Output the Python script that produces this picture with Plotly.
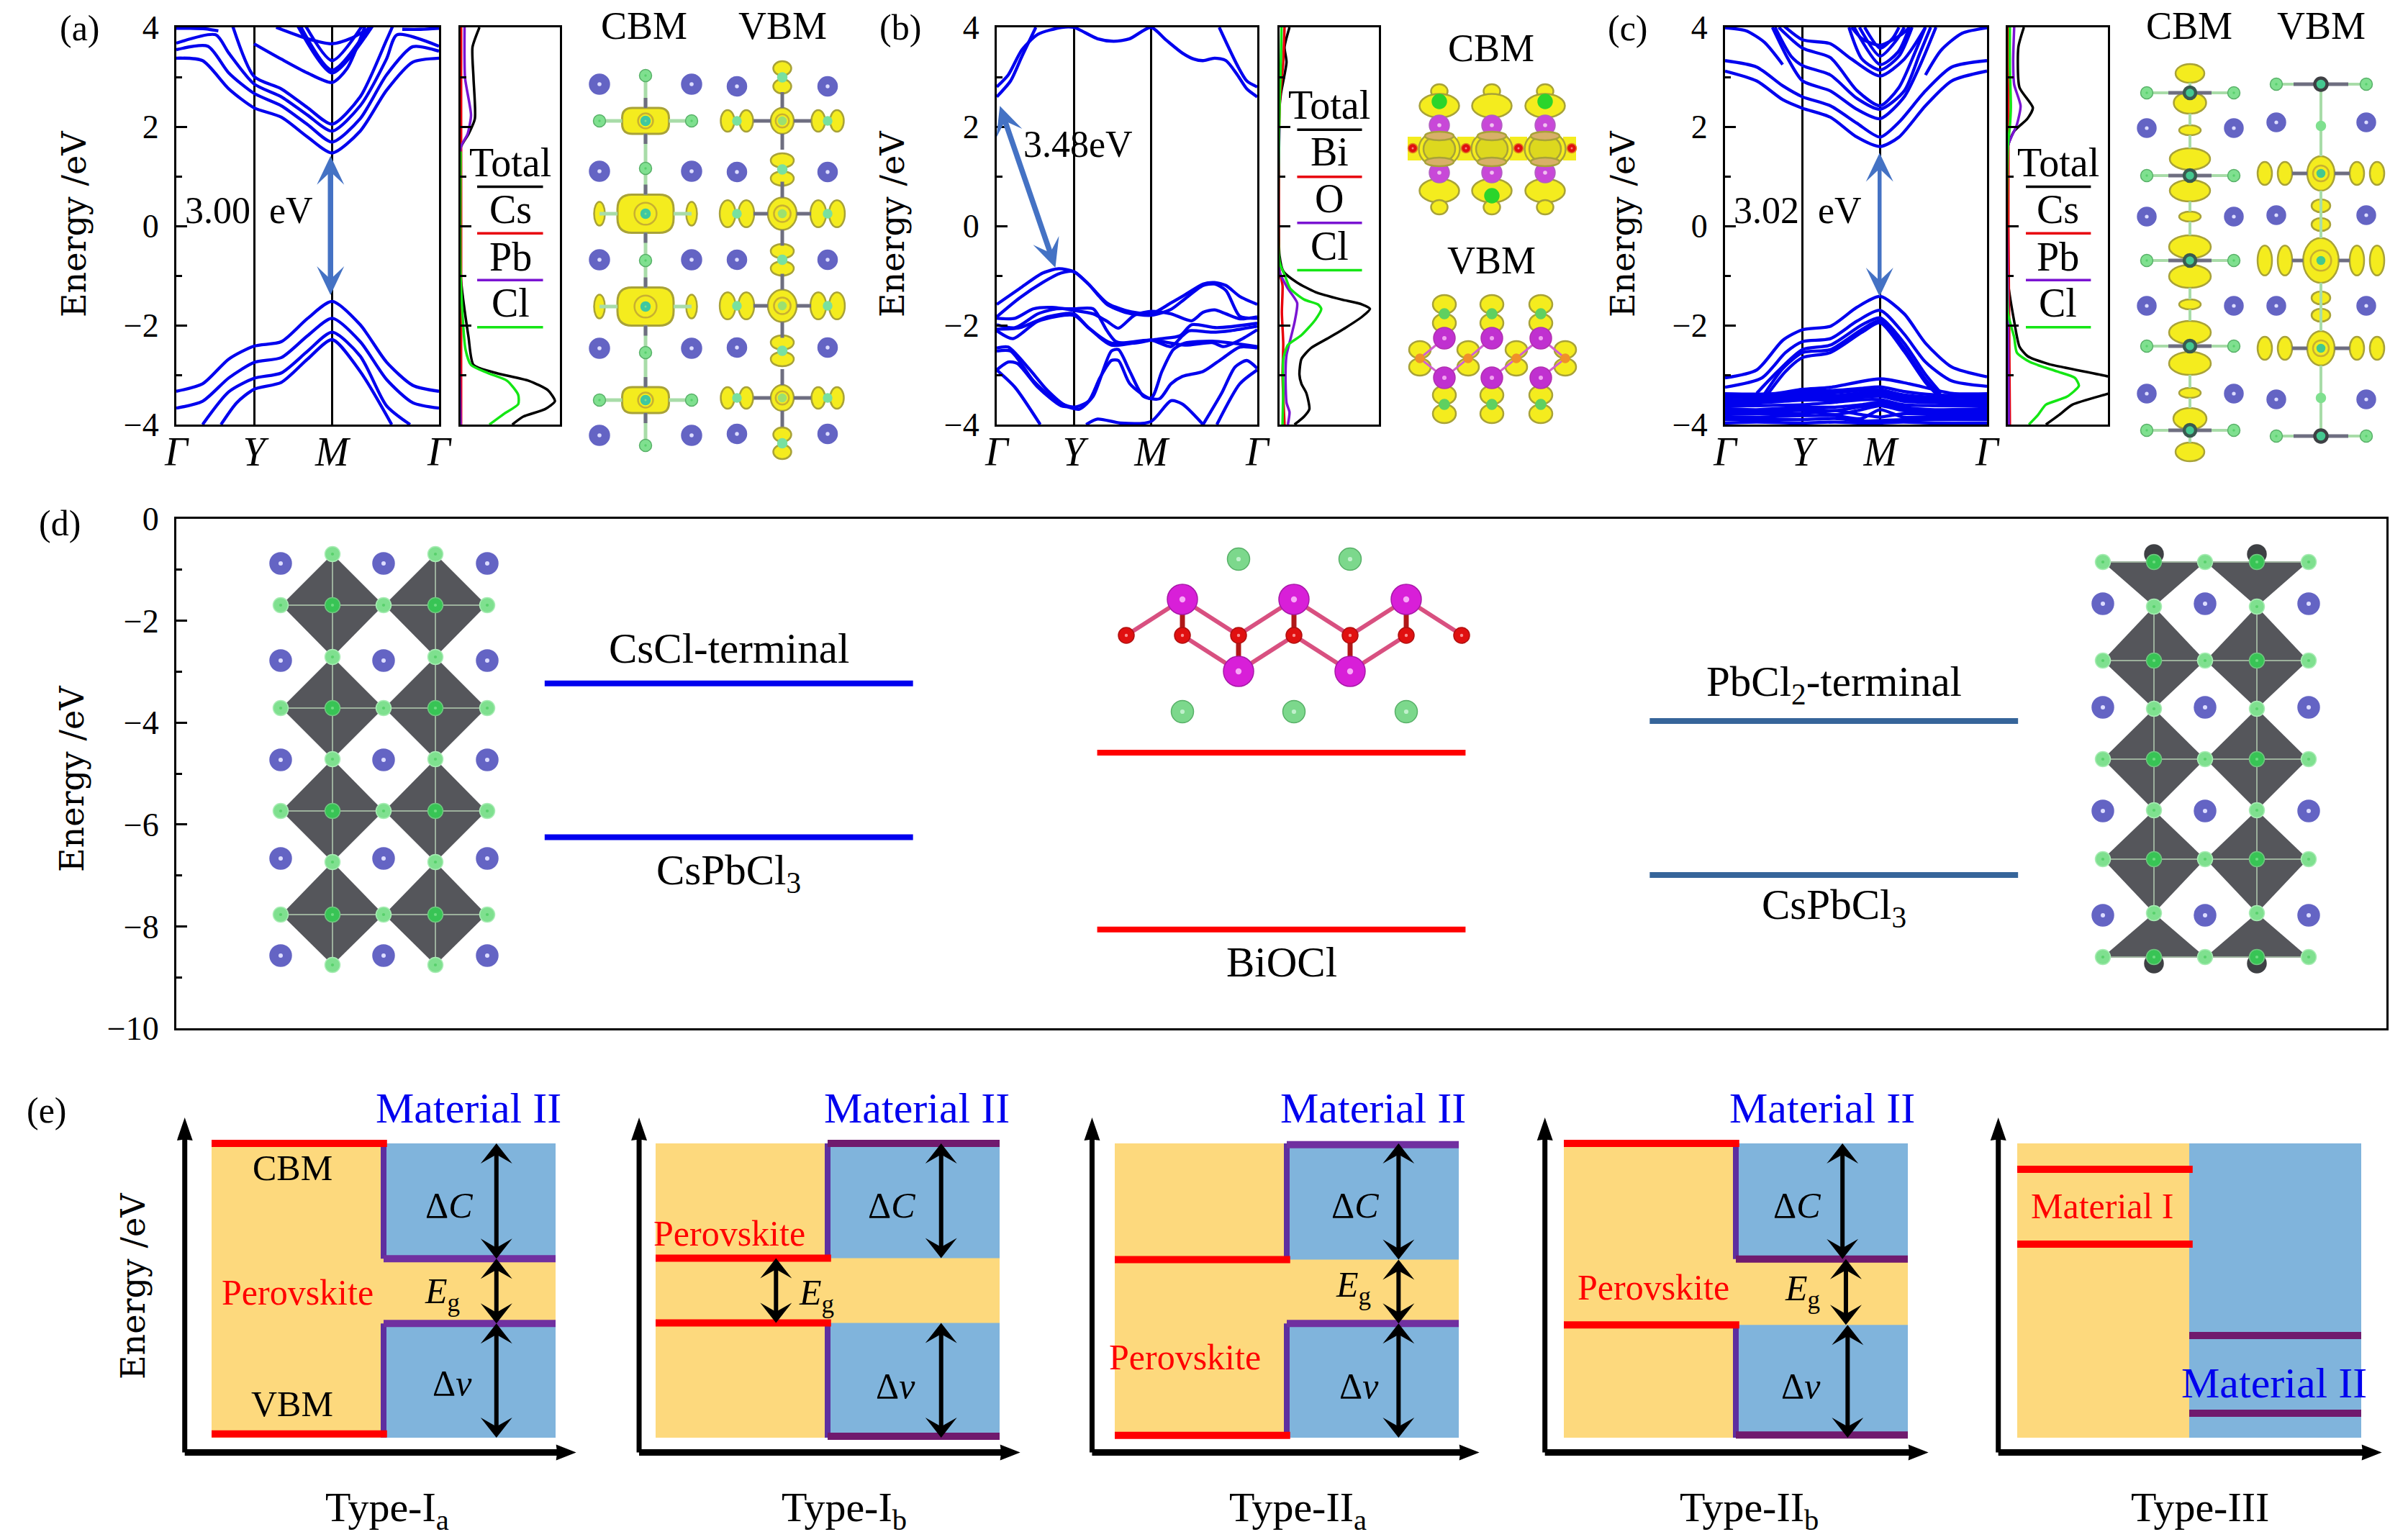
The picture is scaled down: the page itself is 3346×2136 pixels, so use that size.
import plotly.graph_objects as go

W, H = 3346, 2136
SERIF = "Liberation Serif"
WIDE = "DejaVu Serif"
BAND = "#0000EE"
ARROW = "#4472C4"
YEL, SKY = "#FDD97D", "#80B4DC"
PUR, DPUR, VPUR = "#7030A0", "#701A6E", "#5E2EA0"

# ---------- band data: (k list, energy list); k = 0 .. 1 along Gamma-Y-M-Gamma
K_TICKS = [0, 0.296, 0.593, 1]
K_LABELS = ["<i>Γ</i>", "<i>Y</i>", "<i>M</i>", "<i>Γ</i>"]

BANDS_A = [
    ([0,.1,.2,.296,.4,.5,.593,.7,.8,.9,1], [3.38,3.33,2.76,2.38,2.19,1.79,1.47,1.91,2.73,3.30,3.38]),
    ([0,.12,.2,.296,.4,.5,.593,.7,.8,.9,1], [3.55,3.62,3.08,2.67,2.42,2.04,1.69,2.16,3.04,3.61,3.52]),
    ([0,.15,.2,.296,.4,.5,.593,.7,.8,.84,1], [3.68,3.85,3.48,2.86,2.6,2.23,1.91,2.42,3.36,3.85,3.62]),
    ([.21,.296,.4,.5,.593,.7,.8,.83], [4.1,3.01,2.76,2.38,2.05,2.6,3.74,4.1]),
    ([.296,.4,.5,.593,.65,.72], [3.67,3.36,3.08,2.89,3.17,4.05]),
    ([.46,.593,.75], [4.05,3.08,4.05]),
    ([.47,.593,.74], [4.05,3.14,4.05]),
    ([.49,.593,.71], [4.05,3.33,4.05]),
    ([.38,.5,.593,.67,.74], [4.0,3.77,3.67,3.79,4.0]),
    ([0,.05,.11,.16], [3.98,3.98,3.97,3.93]),
    ([.86,.93,1], [3.96,3.96,3.98]),
    ([0,.1,.2,.296,.4,.5,.593,.7,.8,.9,1], [-3.33,-3.18,-2.68,-2.42,-2.33,-1.86,-1.52,-1.99,-2.74,-3.21,-3.33]),
    ([0,.1,.2,.296,.4,.5,.593,.7,.8,.9,1], [-3.67,-3.53,-3.06,-2.75,-2.65,-2.21,-1.86,-2.33,-3.09,-3.56,-3.67]),
    ([.1,.2,.296,.4,.5,.593,.7,.8,.89], [-4,-3.34,-3.07,-2.96,-2.52,-2.14,-2.62,-3.62,-4]),
    ([.17,.23,.296,.4,.5,.593,.7,.82], [-4,-3.56,-3.29,-3.15,-2.68,-2.29,-2.93,-4]),
]

BANDS_B = [
    ([0,.053,.097,.15], [2.60,2.92,3.42,4.0]),
    ([0,.044,.097,.158,.25,.296,.387,.449,.51,.592,.651,.713,.757,.792,.836,.88,.924,.96,1],
     [2.8,3.04,3.55,3.86,4,4.0,3.77,3.72,3.77,4.0,3.74,3.48,3.36,3.33,3.38,3.33,3.04,2.76,2.6]),
    ([.854,.924,.96,1], [4,3.23,2.92,2.8]),
    ([0,.088,.176,.238,.296,.352,.423,.493,.592,.669,.722,.792,.836,.88,.933,1],
     [-1.58,-1.26,-.95,-.86,-.92,-1.17,-1.55,-1.70,-1.77,-1.55,-1.39,-1.17,-1.14,-1.2,-1.42,-1.58]),
    ([0,.088,.176,.246,.296,.352,.423,.493,.592,.669,.722,.792,.836,.88,.933,1],
     [-1.83,-1.45,-1.14,-.95,-.92,-1.17,-1.58,-1.74,-1.8,-1.68,-1.47,-1.2,-1.17,-1.3,-1.82,-1.86]),
    ([0,.07,.14,.211,.296,.37,.423,.467,.528,.592,.669,.748,.792,.836,.88,.933,1],
     [-1.86,-1.86,-1.67,-1.64,-1.70,-1.77,-1.92,-2.06,-1.80,-1.72,-1.77,-1.91,-1.74,-1.69,-1.77,-1.87,-1.83]),
    ([0,.07,.158,.229,.296,.37,.423,.458,.528,.592,.634,.704,.748,.845,1],
     [-1.99,-2.05,-1.77,-1.67,-1.67,-1.67,-2.11,-2.33,-2.36,-2.30,-2.27,-2.21,-1.99,-2.05,-1.96]),
    ([0,.088,.194,.296,.352,.44,.592,.669,.713,.739,.827,.898,1],
     [-2.08,-2.05,-1.83,-1.77,-2.05,-2.36,-2.3,-2.43,-2.21,-2.11,-2.14,-2.11,-2.02]),
    ([0,.062,.158,.296,.352,.44,.592,.722,.827,.871,.933,1],
     [-2.11,-2.27,-1.92,-1.8,-2.05,-2.4,-2.3,-2.40,-2.35,-2.43,-2.3,-2.09]),
    ([0,.044,.123,.194,.264,.317,.37,.44,.467,.511,.563,.625,.669,.713,.792,.863,.933,1],
     [-2.46,-2.44,-2.87,-3.31,-3.62,-3.69,-3.43,-2.52,-2.49,-2.93,-3.43,-3.48,-3.18,-3.03,-2.93,-2.68,-2.44,-2.46]),
    ([0,.053,.141,.229,.296,.352,.396,.44,.467,.511,.592,.634,.678,.722,.827,1],
     [-2.52,-2.52,-3.12,-3.53,-3.65,-3.53,-3.06,-2.71,-2.71,-3.18,-3.47,-2.93,-2.49,-2.36,-2.32,-2.43]),
    ([0,.044,.079,.158,.246,.296], [-2.9,-2.74,-2.77,-3.25,-3.62,-3.65]),
    ([.792,.863,.915,.96,1], [-4,-3.37,-2.84,-2.71,-2.87]),
    ([0,.07,.167], [-2.9,-3.25,-4]),
    ([.343,.387,.475,.592,.669,.713,.792], [-4,-3.89,-3.97,-3.94,-3.52,-3.59,-4]),
    ([.845,.933,1], [-4,-3.18,-2.9]),
]

BANDS_C = [
    ([0,.121,.221,.296,.402,.503,.592,.664,.765,.865,1], [3.12,2.92,2.54,2.37,2.19,1.79,1.6,1.79,2.42,2.92,3.12]),
    ([0,.121,.221,.296,.402,.503,.592,.664,.765,.865,1], [3.33,3.2,2.82,2.6,2.42,2.07,1.79,2.09,2.72,3.2,3.33]),
    ([.181,.241,.296,.402,.503,.592,.684,.744,.805], [4,3.36,2.92,2.72,2.35,2.16,2.6,3.23,4]),
    ([.191,.252,.296,.402,.503,.592,.684,.744,.785], [4,3.42,3.23,3.04,2.57,2.35,2.72,3.48,4]),
    ([.205,.296,.402,.503,.592,.664,.724,.765], [4,3.58,3.39,2.73,2.42,2.79,3.48,4]),
    ([.22,.296,.402,.483,.592,.684,.765], [4.05,3.75,3.67,3.36,3.02,3.36,4]),
    ([.473,.523,.592,.664,.714], [4,3.36,3.14,3.42,4]),
    ([.493,.592,.66,.704], [4,3.25,3.5,4]),
    ([.513,.592,.654,.684], [4,3.42,3.74,4]),
    ([.533,.592,.64,.664], [4,3.58,3.78,4]),
    ([.483,.523,.592,.674,.704], [4,3.77,3.64,3.86,4]),
    ([0,.08,.15,.22], [3.99,3.93,3.7,3.25]),
    ([.765,.825,.905,1], [3.04,3.54,3.88,3.99]),
    ([0,.121,.221,.296,.402,.503,.592,.684,.765,.865,1], [-3.06,-2.9,-2.3,-2.09,-2.02,-1.64,-1.42,-1.77,-2.36,-2.84,-3.04]),
    ([0,.141,.231,.296,.402,.503,.592,.684,.765,.865,1], [-3.25,-3.06,-2.55,-2.33,-2.27,-1.92,-1.7,-2.18,-2.74,-3.12,-3.23]),
    ([.121,.201,.296,.402,.523,.592,.684,.765,.825], [-3.37,-2.93,-2.49,-2.4,-1.99,-1.85,-2.36,-2.99,-3.37]),
    ([.151,.221,.296,.402,.523,.592,.684,.765,.825], [-3.38,-2.87,-2.55,-2.49,-2.08,-1.91,-2.46,-3.09,-3.43]),
    ([.161,.231,.296,.402,.523,.592,.684,.765,.835], [-3.4,-2.93,-2.65,-2.55,-2.14,-1.95,-2.53,-3.15,-3.53]),
    ([0,.181,.296,.402,.592,.704,.865,1], [-3.38,-3.38,-3.29,-3.25,-3.08,-3.18,-3.37,-3.38]),
]
K_C_DENSE = [0,.12,.296,.42,.52,.592,.68,.8,1]
E_C_DENSE = [
    [-3.42,-3.42,-3.33,-3.31,-3.27,-3.24,-3.33,-3.4,-3.42],
    [-3.46,-3.45,-3.37,-3.36,-3.31,-3.3,-3.4,-3.45,-3.46],
    [-3.52,-3.5,-3.42,-3.42,-3.36,-3.35,-3.45,-3.5,-3.52],
    [-3.56,-3.54,-3.47,-3.46,-3.41,-3.39,-3.49,-3.53,-3.56],
    [-3.6,-3.57,-3.51,-3.5,-3.45,-3.43,-3.53,-3.56,-3.6],
    [-3.63,-3.62,-3.6,-3.55,-3.5,-3.5,-3.6,-3.62,-3.63],
    [-3.68,-3.7,-3.65,-3.65,-3.6,-3.55,-3.65,-3.7,-3.68],
    [-3.72,-3.72,-3.69,-3.72,-3.64,-3.59,-3.69,-3.72,-3.72],
    [-3.76,-3.75,-3.72,-3.8,-3.7,-3.62,-3.72,-3.75,-3.76],
    [-3.8,-3.78,-3.78,-3.72,-3.8,-3.85,-3.78,-3.8,-3.8],
    [-3.85,-3.85,-3.82,-3.82,-3.88,-3.7,-3.85,-3.85,-3.85],
    [-3.9,-3.9,-3.9,-3.88,-3.93,-3.92,-3.9,-3.9,-3.9],
    [-3.97,-3.95,-3.97,-3.95,-3.97,-3.97,-3.95,-3.97,-3.97],
]
BANDS_C += [(K_C_DENSE, row) for row in E_C_DENSE]

# ---------- density of states: (weight list, energy list)
DOS_A = [
    ([.19,.12,.13,.144,.08,0,0,.08,.13,.355,.69,.88,.95,.85,.63,.52],
     [4,3.6,2.98,2.16,1.85,1.57,-.98,-2.24,-2.8,-2.96,-3.12,-3.31,-3.53,-3.69,-3.84,-4], "#000000"),
    ([.005,.005,.005], [4,0,-4], "#E8000B"),
    ([.04,.045,.105,.07,0,0], [4,2.98,2.23,1.85,1.57,-4], "#7A14D2"),
    ([0,0,.05,.105,.27,.47,.58,.58,.44,.29], [1.5,-1,-2.49,-2.8,-2.96,-3.12,-3.4,-3.59,-3.78,-4], "#14E614"),
]
DOS_B = [
    ([.1,.05,.07,.014,0,0,.04,.177,.36,.62,.83,.91,.83,.665,.48,.316,.22,.2,.22,.27,.3,.246,.15],
     [4,3.6,3.3,2.67,2.4,-.6,-.92,-1.14,-1.33,-1.48,-1.58,-1.67,-1.83,-2.05,-2.27,-2.46,-2.68,-2.99,-3.18,-3.37,-3.69,-3.84,-4], "#000000"),
    ([.05,.037,.014,0,0,.03,.023,.037,.03,.05], [4,3.3,2.8,2.4,-.9,-1.2,-1.74,-2.37,-3,-4], "#E8000B"),
    ([0,0,.084,.177,.153,.107,.07,.06,.07,.1,.084], [2,-.92,-1.26,-1.55,-1.92,-2.3,-2.6,-3,-3.56,-3.75,-4], "#7A14D2"),
    ([.02,.01,0,0,.05,.107,.246,.386,.42,.36,.22,.084,.037,.037,.03],
     [4,3,2.5,-.73,-.98,-1.26,-1.48,-1.58,-1.67,-1.89,-2.2,-2.4,-2.68,-3.3,-4], "#14E614"),
]
DOS_C = [
    ([.16,.105,.116,.25,.195,.063,0,0,.063,.116,.195,.407,1.0,1.3,1.0,.645,.51,.38],
     [4,3.6,2.79,2.38,2.16,1.91,1.6,-1.1,-1.92,-2.43,-2.62,-2.78,-3.03,-3.2,-3.38,-3.6,-3.81,-4], "#000000"),
    ([.005,.005,.02], [4,0,-4], "#E8000B"),
    ([.063,.053,.063,.127,.09,0,0,.01], [4,3.3,2.85,2.42,2.04,1.6,-1.5,-4], "#7A14D2"),
    ([.02,.02,.03,.02,0,0,.063,.09,.22,.49,.67,.71,.59,.38,.3,.21],
     [4,3.2,2.4,2,1.6,-1.74,-2.24,-2.55,-2.74,-2.93,-3.06,-3.22,-3.44,-3.6,-3.81,-4], "#14E614"),
]
LEGEND_A = ["Total", "Cs", "Pb", "Cl"]
LEGEND_B = ["Total", "Bi", "O", "Cl"]
LEGEND_COLORS = ["#000000", "#E8000B", "#7A14D2", "#14E614"]
LEGEND_TEXT_E_A = [1.28, .33, -.62, -1.55]
LEGEND_LINE_E_A = [.79, -.15, -1.09, -2.04]
LEGEND_TEXT_E_B = [2.43, 1.49, .55, -.4]
LEGEND_LINE_E_B = [1.94, .99, .06, -.89]

# ---------- panel (d)
D_TICKS = [0, -2, -4, -6, -8, -10]
D_LEVELS = [
    (1/6, 2/6, -3.23, BAND), (1/6, 2/6, -6.25, BAND),
    (2.5/6, 3.5/6, -4.59, "#FF0000"), (2.5/6, 3.5/6, -8.06, "#FF0000"),
    (4/6, 5/6, -3.97, "#36659A"), (4/6, 5/6, -6.99, "#36659A"),
]
D_LABELS = [
    (.25, -2.54, "CsCl-terminal"), (.25, -6.95, "CsPbCl<sub>3</sub>"), (.5, -8.7, "BiOCl"),
    (.75, -3.25, "PbCl<sub>2</sub>-terminal"), (.75, -7.63, "CsPbCl<sub>3</sub>"),
]

# ---------- panel (e): normalised band alignment schematics
E_NAMES = ["Type-I<sub>a</sub>", "Type-I<sub>b</sub>", "Type-II<sub>a</sub>", "Type-II<sub>b</sub>", "Type-III"]
E_NAME_POS = [(.51,-.245), (.548,-.245), (.533,-.245), (.539,-.245), (.531,-.235)]
E_PERO_CB = [1.0, .61, .605, 1.0, .912]
E_PERO_VB = [.013, .39, .008, .383, .658]
E_MAT_CB = [.608, 1.0, .996, .607, .347]
E_MAT_VB = [.388, .005, .388, .009, .083]
E_GAP_HI = [.608, .61, .605, .607, None]
E_GAP_LO = [.388, .39, .388, .383, None]
E_MAT_COLOR = [PUR, DPUR, PUR, DPUR, DPUR]
E_ARROW_X = [(.828,.828,.828), (.83,.35,.83), (.825,.825,.825), (.81,.82,.825), None]
E_LEFT_PX = [294, 911, 1549, 2173, 2803]
E_AXIS_X = [-.078, -.048, -.066, -.055, -.055]
E_TEXTS = [
    [(.235,.917,"CBM","black"), (.235,.115,"VBM","black"), (.25,.495,"Perovskite","red"),
     (.69,.79,"Δ<i>C</i>","black"), (.67,.49,"<i>E</i><sub>g</sub>","black"), (.70,.186,"Δ<i>v</i>","black"), (.746,1.12,"Material II",BAND)],
    [(.215,.695,"Perovskite","red"), (.687,.79,"Δ<i>C</i>","black"), (.467,.483,"<i>E</i><sub>g</sub>","black"),
     (.698,.176,"Δ<i>v</i>","black"), (.76,1.12,"Material II",BAND)],
    [(.205,.275,"Perovskite","red"), (.698,.79,"Δ<i>C</i>","black"), (.693,.511,"<i>E</i><sub>g</sub>","black"),
     (.71,.176,"Δ<i>v</i>","black"), (.75,1.12,"Material II",BAND)],
    [(.26,.511,"Perovskite","red"), (.677,.79,"Δ<i>C</i>","black"), (.694,.498,"<i>E</i><sub>g</sub>","black"),
     (.689,.176,"Δ<i>v</i>","black"), (.752,1.12,"Material II",BAND)],
    [(.247,.788,"Material I","red"), (.746,.186,"Material II",BAND)],
]

fig = go.Figure()
layout = {}
shapes, annos = [], []
counter = [0]


def new_axes(x0, x1, y_top, y_bot, xr, yr, xopts=None, yopts=None):
    counter[0] += 1
    n = counter[0]
    sfx = "" if n == 1 else str(n)
    xa = dict(domain=[x0 / W, x1 / W], range=xr, anchor="y" + sfx, visible=False, fixedrange=True)
    ya = dict(domain=[1 - y_bot / H, 1 - y_top / H], range=yr, anchor="x" + sfx, visible=False, fixedrange=True)
    xa.update(xopts or {})
    ya.update(yopts or {})
    layout["xaxis" + sfx] = xa
    layout["yaxis" + sfx] = ya
    return "x" + sfx, "y" + sfx


def text(xr, yr, x, y, s, size=54, color="black", family=SERIF, angle=0):
    annos.append(dict(xref=xr, yref=yr, x=x, y=y, text=s, showarrow=False, textangle=angle,
                      xanchor="center", yanchor="middle", font=dict(size=size, color=color, family=family)))


def line(xr, yr, x0, y0, x1, y1, color, width, layer="above"):
    shapes.append(dict(type="line", xref=xr, yref=yr, x0=x0, y0=y0, x1=x1, y1=y1, layer=layer,
                       line=dict(color=color, width=width)))


def rect(xr, yr, x0, y0, x1, y1, color):
    shapes.append(dict(type="rect", xref=xr, yref=yr, x0=x0, y0=y0, x1=x1, y1=y1,
                       fillcolor=color, line=dict(width=0)))


def poly(xr, yr, pts, color, layer="above"):
    path = "M" + " L".join(f"{a:.4f},{b:.4f}" for a, b in pts) + " Z"
    shapes.append(dict(type="path", xref=xr, yref=yr, path=path, fillcolor=color, layer=layer, line=dict(width=0)))


def head(xr, yr, tip, ux, uy, sx, sy, color, hl, hw, notch):
    px, py = -uy, ux
    pts = [(tip[0], tip[1]),
           (tip[0] - (ux * hl + px * hw) / sx, tip[1] - (uy * hl + py * hw) / sy),
           (tip[0] - ux * hl * notch / sx, tip[1] - uy * hl * notch / sy),
           (tip[0] - (ux * hl - px * hw) / sx, tip[1] - (uy * hl - py * hw) / sy)]
    poly(xr, yr, pts, color)


def arrow(xr, yr, p0, p1, sx, sy, color, lw, hl, hw, notch=.55, both=True):
    dx, dy = (p1[0] - p0[0]) * sx, (p1[1] - p0[1]) * sy
    d = (dx * dx + dy * dy) ** .5
    ux, uy = dx / d, dy / d
    line(xr, yr, p0[0] + ux * hl * .5 / sx if both else p0[0], p0[1] + uy * hl * .5 / sy if both else p0[1],
         p1[0] - ux * hl * .5 / sx, p1[1] - uy * hl * .5 / sy, color, lw)
    head(xr, yr, p1, ux, uy, sx, sy, color, hl, hw, notch)
    if both:
        head(xr, yr, p0, -ux, -uy, sx, sy, color, hl, hw, notch)


FRAME = dict(visible=True, showline=True, mirror=True, linewidth=3, linecolor="black", zeroline=False)
YAX = dict(FRAME, tick0=0, dtick=2, ticks="inside", ticklen=15, tickwidth=3, tickcolor="black", showgrid=False,
           minor=dict(dtick=1, ticks="inside", ticklen=8, tickwidth=3, tickcolor="black", showgrid=False),
           tickfont=dict(size=46, family=SERIF, color="black"), ticklabelstandoff=12)

TOP, BOT = 38, 590
PX_E = (BOT - TOP) / 8


def band_panel(main, dos, bands, dosdata, gap, gap_pos, arr, alw, names, leg_t, leg_l, leg_x):
    xa = dict(FRAME, tickvals=K_TICKS, ticktext=K_LABELS, ticks="", showgrid=True, gridcolor="black", gridwidth=3,
              tickfont=dict(size=56, family=SERIF, color="black"), ticklabelstandoff=-13)
    xr, yr = new_axes(main[0], main[1], TOP, BOT, [0, 1], [-4, 4], xa, YAX)
    for k, e in bands:
        fig.add_trace(go.Scatter(x=k, y=e, xaxis=xr, yaxis=yr, mode="lines", hoverinfo="skip", showlegend=False,
                                 line=dict(color=BAND, width=4.3, shape="spline", smoothing=.7)))
    text(xr, yr, gap_pos[0], gap_pos[1], gap, size=52)
    arrow(xr, yr, arr[0], arr[1], main[1] - main[0], PX_E, ARROW, alw, 40, 19)
    xa2 = dict(FRAME, showticklabels=False, ticks="", showgrid=False)
    ya2 = dict(YAX, showticklabels=False)
    xr2, yr2 = new_axes(dos[0], dos[1], TOP, BOT, [0, 1], [-4, 4], xa2, ya2)
    for w, e, c in dosdata:
        fig.add_trace(go.Scatter(x=w, y=e, xaxis=xr2, yaxis=yr2, mode="lines", hoverinfo="skip", showlegend=False,
                                 line=dict(color=c, width=3.5, shape="spline", smoothing=.6)))
    for s, et, el, c in zip(names, leg_t, leg_l, LEGEND_COLORS):
        text(xr2, yr2, .5, et, s, size=56)
        fig.add_trace(go.Scatter(x=leg_x, y=[el, el], xaxis=xr2, yaxis=yr2, mode="lines", hoverinfo="skip",
                                 showlegend=False, line=dict(color=c, width=3.5)))


band_panel((245, 610), (640, 778), BANDS_A, DOS_A, "3.00  eV", (.277, .31), [(.587, 1.41), (.587, -1.39)], 7.5,
           LEGEND_A, LEGEND_TEXT_E_A, LEGEND_LINE_E_A, [.167, .83])
band_panel((1385, 1747), (1778, 1916), BANDS_B, DOS_B, "3.48eV", (.313, 1.65), [(.012, 2.415), (.225, -.84)], 7.5,
           LEGEND_B, LEGEND_TEXT_E_B, LEGEND_LINE_E_B, [.177, .83])
band_panel((2397, 2761), (2790, 2929), BANDS_C, DOS_C, "3.02  eV", (.278, .31), [(.59, 1.47), (.59, -1.42)], 5.5,
           LEGEND_A, LEGEND_TEXT_E_A, LEGEND_LINE_E_A, [.18, .83])

# panel (d)
xd = dict(FRAME, showticklabels=False, ticks="", showgrid=False)
yd = dict(YAX, tickvals=D_TICKS, tickmode="array",
          minor=dict(tickvals=[-1, -3, -5, -7, -9], ticks="inside", ticklen=8, tickwidth=3, tickcolor="black", showgrid=False))
yd.pop("dtick"); yd.pop("tick0")
xr, yr = new_axes(245, 3316, 721, 1429, [0, 1], [-10, 0], xd, yd)
for a, b, e, c in D_LEVELS:
    line(xr, yr, a, e, b, e, c, 8)
for x, e, s in D_LABELS:
    text(xr, yr, x, e, s, size=59)

# panel (e)
SX, SY = 478, 409
for i in range(5):
    L = E_LEFT_PX[i]
    xr, yr = new_axes(L - .1 * SX, L + 1.1 * SX, 1998 - 1.15 * SY, 1998 + .3 * SY, [-.1, 1.1], [-.3, 1.15])
    rect(xr, yr, 0, 0, .5, 1, YEL)
    rect(xr, yr, .5, 0, 1, 1, SKY)
    hi, lo = E_GAP_HI[i], E_GAP_LO[i]
    if hi is not None:
        rect(xr, yr, .5, lo, 1, hi, YEL)
        line(xr, yr, .5, 1, .5, hi, VPUR, 8)
        line(xr, yr, .5, lo, .5, 0, VPUR, 8)
    line(xr, yr, 0, E_PERO_CB[i], .51, E_PERO_CB[i], "#FF0000", 10)
    line(xr, yr, 0, E_PERO_VB[i], .51, E_PERO_VB[i], "#FF0000", 10)
    line(xr, yr, .5, E_MAT_CB[i], 1, E_MAT_CB[i], E_MAT_COLOR[i], 10)
    line(xr, yr, .5, E_MAT_VB[i], 1, E_MAT_VB[i], E_MAT_COLOR[i], 10)
    ax = E_AXIS_X[i]
    arrow(xr, yr, (ax, -.05), (ax, 1.088), SX, SY, "black", 7, 32, 11, .95, both=False)
    arrow(xr, yr, (ax, -.05), (1.06, -.05), SX, SY, "black", 9, 28, 11, .95, both=False)
    if hi is not None:
        xs = E_ARROW_X[i]
        arrow(xr, yr, (xs[0], 1.0), (xs[0], hi), SX, SY, "black", 6, 28, 22)
        arrow(xr, yr, (xs[1], hi), (xs[1], lo), SX, SY, "black", 6, 28, 22)
        arrow(xr, yr, (xs[2], lo), (xs[2], 0), SX, SY, "black", 6, 28, 22)
    for x, y, s, c in E_TEXTS[i]:
        text(xr, yr, x, y, s, size=60 if s == "Material II" else 50, color=c)
    text(xr, yr, E_NAME_POS[i][0], E_NAME_POS[i][1], E_NAMES[i], size=58)

# ---------- crystal structure illustrations, drawn on a full-figure canvas axes
CX, CY = new_axes(0, W, 0, H, [0, W], [H, 0])
C_BLUE, C_GREEN, C_DARK, C_PINK, C_RED = "#6464C4", "#7FE08F", "#55565B", "#D81FD8", "#E01010"
OLIVE, LOBE, BOND_G, BOND_D = "#A8A238", "#F4EC1E", "#A8DCA8", "#6E6E80"


def atoms(xs, ys, size, color, shine="#DCDCFF", edge=None):
    fig.add_trace(go.Scatter(x=xs, y=ys, xaxis=CX, yaxis=CY, mode="markers", hoverinfo="skip", showlegend=False,
                             marker=dict(size=size, color=color, line=dict(width=1.5, color=edge or color))))
    if shine:
        fig.add_trace(go.Scatter(x=xs, y=ys, xaxis=CX, yaxis=CY, mode="markers", hoverinfo="skip", showlegend=False,
                                 marker=dict(size=max(size * .2, 3), color=shine, line=dict(width=0))))


def bonds(segs, color, width):
    xs, ys = [], []
    for x0, y0, x1, y1 in segs:
        xs += [x0, x1, None]
        ys += [y0, y1, None]
    fig.add_trace(go.Scatter(x=xs, y=ys, xaxis=CX, yaxis=CY, mode="lines", hoverinfo="skip", showlegend=False,
                             line=dict(color=color, width=width)))


def lobe(x, y, w, h, ring=False, color=LOBE, layer="below"):
    shapes.append(dict(type="circle", xref=CX, yref=CY, x0=x - w / 2, x1=x + w / 2, y0=y - h / 2, y1=y + h / 2,
                       layer=layer, fillcolor=color, line=dict(color=OLIVE, width=2.5)))
    if ring:
        r = min(w, h) * .29
        shapes.append(dict(type="circle", xref=CX, yref=CY, x0=x - r, x1=x + r, y0=y - r, y1=y + r,
                           layer=layer, fillcolor=color, line=dict(color="#C8B030", width=2.5)))


def blob(x, y, w, h, rad):
    a, b = w / 2, h / 2
    path = (f"M{x-a+rad},{y-b} L{x+a-rad},{y-b} Q{x+a},{y-b} {x+a},{y-b+rad} L{x+a},{y+b-rad} Q{x+a},{y+b} {x+a-rad},{y+b} "
            f"L{x-a+rad},{y+b} Q{x-a},{y+b} {x-a},{y+b-rad} L{x-a},{y-b+rad} Q{x-a},{y-b} {x-a+rad},{y-b} Z")
    shapes.append(dict(type="path", xref=CX, yref=CY, path=path, layer="below", fillcolor=LOBE, line=dict(color=OLIVE, width=3)))
    r = min(w, h) * .29
    shapes.append(dict(type="circle", xref=CX, yref=CY, x0=x - r, x1=x + r, y0=y - r, y1=y + r, layer="below",
                       fillcolor=LOBE, line=dict(color="#C8B030", width=2.5)))


def octa_block(side_x, cent_x, rows, apexes, blue_y, halfw):
    for c in cent_x:
        for r, (top, bot) in zip(rows, apexes):
            pts = [(c - halfw, r), (c, top) if top else (c, r - 1), (c + halfw, r), (c, bot) if bot else (c, r + 1)]
            poly(CX, CY, pts, C_DARK, layer="below")
    segs = [(side_x[0], r, side_x[-1], r) for r in rows]
    ylist = [a for p in apexes for a in p if a]
    segs += [(c, min(ylist), c, max(ylist)) for c in cent_x]
    bonds(segs, "#9CB09C", 2)
    atoms([x for x in side_x for _ in blue_y], [y for _ in side_x for y in blue_y], 30, C_BLUE)
    atoms([x for x in side_x for _ in rows], [y for _ in side_x for y in rows], 21, C_GREEN, "#58D06C", "#A8ECB4")
    atoms([x for x in cent_x for _ in rows], [y for _ in cent_x for y in rows], 21, "#38C455", "#70DC82", "#70C880")
    uniq = sorted(set(ylist))
    atoms([x for x in cent_x for _ in uniq], [y for _ in cent_x for y in uniq], 21, C_GREEN, "#58D06C", "#A8ECB4")


# structure (d) left: octahedra from lattice rows
DL_SIDE = [390, 533, 677]; DL_CENT = [462, 605]
DL_ROWS = [841, 984, 1127, 1271]; DL_APEX = [(770, 913), (913, 1055), (1055, 1198), (1198, 1341)]
DL_BLUE = [783, 918, 1056, 1193, 1328]
octa_block(DL_SIDE, DL_CENT, DL_ROWS, DL_APEX, DL_BLUE, 71)

# structure (d) right
DR_SIDE = [2922, 3064, 3208]; DR_CENT = [2993, 3136]
DR_ROWS = [781, 918, 1055, 1194, 1330]
DR_APEX = [(None, 843), (843, 985), (985, 1126), (1126, 1269), (1269, None)]
DR_BLUE = [839, 983, 1127, 1272]
atoms(DR_CENT * 2, [770, 770, 1339, 1339], 26, "#3E4044", None)
octa_block(DR_SIDE, DR_CENT, DR_ROWS, DR_APEX, DR_BLUE, 71)

# structure (d) middle: BiOCl
BI_X_TOP = [1643, 1798, 1954]; BI_X_BOT = [1721, 1876]
O_X = [1565, 1643, 1721, 1798, 1876, 1954, 2031]
CL_X_TOP = [1721, 1876]; CL_X_BOT = [1643, 1798, 1954]
segs = [(x, 833, x + s * 78, 883) for x in BI_X_TOP for s in (-1, 1)] + [(x, 933, x + s * 78, 883) for x in BI_X_BOT for s in (-1, 1)]
bonds(segs, "#D85080", 6)
bonds([(x, 833, x, 883) for x in BI_X_TOP] + [(x, 883, x, 933) for x in BI_X_BOT], "#B01818", 7)
atoms(CL_X_TOP, [777] * 2, 31, "#7CD88C", "#C0F0CC", "#58B068")
atoms(CL_X_BOT, [989] * 3, 31, "#7CD88C", "#C0F0CC", "#58B068")
atoms(BI_X_TOP, [833] * 3, 42, C_PINK, "#F8A8F8", "#A818A8")
atoms(BI_X_BOT, [933] * 2, 42, C_PINK, "#F8A8F8", "#A818A8")
atoms(O_X, [883] * 7, 22, C_RED, "#F89090", "#B01010")

# (a) CBM
AC_X = 897; AC_SIDE = [833, 961]
AC_CL = [105, 234, 362, 490, 619]; AC_PB = [168, 297, 426, 556]; AC_CS = [117, 238, 361, 484, 605]
AC_W = [65, 78, 78, 65]; AC_H = [36, 53, 53, 36]; AC_R = [14, 20, 20, 14]
for y, w, h, r in zip(AC_PB, AC_W, AC_H, AC_R):
    blob(AC_X, y, w, h, r)
for y in AC_PB[1:3]:
    for x in AC_SIDE:
        lobe(x, y, 15, 33)
ac_v = [(AC_X, 105, AC_X, AC_PB[0] - AC_H[0] / 2)] + [(AC_X, AC_PB[i] + AC_H[i] / 2, AC_X, AC_PB[i + 1] - AC_H[i + 1] / 2) for i in range(3)] + [(AC_X, AC_PB[3] + AC_H[3] / 2, AC_X, 619)]
ac_h = [(AC_SIDE[0], y, AC_X - w / 2, y) for y, w in zip(AC_PB, AC_W)] + [(AC_X + w / 2, y, AC_SIDE[1], y) for y, w in zip(AC_PB, AC_W)]
bonds(ac_v + ac_h, BOND_G, 5)
bonds([(AC_X, y + s * h / 2, AC_X, y + s * (h / 2 + 14)) for y, h in zip(AC_PB, AC_H) for s in (-1, 1)], BOND_D, 5)
atoms(AC_SIDE * 5, [y for y in AC_CS for _ in AC_SIDE], 28, C_BLUE)
atoms([AC_X] * 5, AC_CL, 17, C_GREEN, "#58D06C", "#58B068")
atoms(AC_SIDE * 2, [y for y in (AC_PB[0], AC_PB[3]) for _ in AC_SIDE], 17, C_GREEN, "#58D06C", "#58B068")
atoms([AC_X] * 4, AC_PB, 13, "#3FC8A0", "#7FE08F")

# (a) VBM
AV_X = 1087; AV_SIDE = [1024, 1150]
AV_PB = [168, 297, 425, 553]; AV_CS = [120, 239, 361, 483, 603]
AV_PAIRS = [(95, 120), (223, 248), (349, 373), (476, 499), (604, 628)]
AV_PAIR_W = [25, 32, 32, 32, 25]
AV_SCALE = [1, 1.25, 1.25, 1]


def side_lobes(cx, offs, y, w, h):
    for o in offs:
        lobe(cx + o, y, w, h)


segs = []
for y, s in zip(AV_PB, AV_SCALE):
    segs += [(AV_X + d * 16 * s, y, AV_X + d * 40, y) for d in (-1, 1)]
    segs += [(AV_X, y + d * 18 * s, AV_X, y + d * (18 * s + 22)) for d in (-1, 1)]
bonds(segs, BOND_D, 5)
for y, s in zip(AV_PB, AV_SCALE):
    lobe(AV_X, y, 32 * s, 36 * s, True)
    side_lobes(AV_X, [-76, -50, 50, 76], y, 19 * (1 + (s - 1) * .6), 30 * s)
for (a, b), w in zip(AV_PAIRS, AV_PAIR_W):
    lobe(AV_X, a, w, 20)
    lobe(AV_X, b, w, 20)
atoms(AV_SIDE * 5, [y for y in AV_CS for _ in AV_SIDE], 27, C_BLUE)
atoms([AV_X] * 5, [(a + b) / 2 for a, b in AV_PAIRS], 13, "#78E0A0", None)
atoms(AV_SIDE * 4, [y for y in AV_PB for _ in AV_SIDE], 12, "#78E0A0", None)
atoms([AV_X] * 4, AV_PB, 11, "#9CE070", None)

# (b) CBM
BC_COL = [2000, 2073, 2147]; BC_O = [1963, 2037, 2110, 2184]
for x in BC_COL:
    lobe(x, 127, 23, 20)
    lobe(x, 147, 55, 33)
    lobe(x, 265, 55, 33)
    lobe(x, 288, 23, 20)
for x in BC_O:
    shapes.append(dict(type="rect", xref=CX, yref=CY, x0=max(x - 12, 1956), x1=min(x + 12, 2190), y0=190, y1=223,
                       layer="below", fillcolor=LOBE, line=dict(width=0)))
for x in BC_COL:
    lobe(x, 207, 57, 50)
    lobe(x, 207, 44, 38, color="#DDD81E")
atoms(BC_COL * 2, [174] * 3 + [240] * 3, 28, "#C848D8", "#F0C0F0", "#B060C0")
for x in BC_COL:
    lobe(x, 189, 40, 12, color="#D8B068", layer="above")
    lobe(x, 225, 40, 12, color="#D8B068", layer="above")
atoms(BC_O, [206] * 4, 13, C_RED, "#F88080", "#E08020")
atoms([2000, 2147, 2073], [141, 141, 272], 20, "#2BD52B", None)

# (b) VBM
BV_COL = [2007, 2073, 2141]; BV_MID = [1973, 2040, 2107, 2175]
for x in BV_COL:
    lobe(x, 423, 32, 26); lobe(x, 449, 32, 26); lobe(x, 549, 32, 26); lobe(x, 575, 32, 26)
for x in BV_MID:
    lobe(x, 486, 30, 24); lobe(x, 510, 30, 24)
bonds([(BV_MID[i], 498, BV_COL[min(i, 2)], 470) for i in range(4)] + [(BV_MID[i], 498, BV_COL[max(i - 1, 0)], 525) for i in range(4)], "#D060D0", 3)
atoms(BV_COL * 2, [470] * 3 + [525] * 3, 30, "#C030D0", "#F0A0F0", "#B030B0")
atoms(BV_MID, [498] * 4, 12, "#F0902A", None)
atoms(BV_COL * 2, [436] * 3 + [562] * 3, 14, "#5FD060", None)

# (c) CBM
CC_X = 3043; CC_SIDE = [2983, 3104]
CC_ROWS = [129, 244, 362, 481, 598]; CC_CS = [178, 301, 425, 547]
CC_BIG = [(102, 40, 26), (143, 45, 30), (221, 56, 30), (265, 56, 30), (343, 58, 32), (384, 58, 32),
          (462, 58, 32), (505, 58, 32), (582, 46, 30), (628, 40, 26)]
CC_SMALL = [181, 301, 423, 546]
for y, w, h in CC_BIG:
    lobe(CC_X, y, w, h)
for y in CC_SMALL:
    lobe(CC_X, y, 30, 14)
cc_stack = sorted([(y, h) for y, _, h in CC_BIG] + [(y, 14) for y in CC_SMALL])
cc_v = [(CC_X, cc_stack[i][0] + cc_stack[i][1] / 2, CC_X, cc_stack[i + 1][0] - cc_stack[i + 1][1] / 2) for i in range(len(cc_stack) - 1)]
bonds(cc_v + [(CC_SIDE[0], y, CC_SIDE[1], y) for y in CC_ROWS], BOND_G, 4)
bonds([(CC_X - 30, y, CC_X + 30, y) for y in CC_ROWS], BOND_D, 5)
atoms(CC_SIDE * 4, [y for y in CC_CS for _ in CC_SIDE], 26, C_BLUE)
atoms(CC_SIDE * 5, [y for y in CC_ROWS for _ in CC_SIDE], 17, C_GREEN, "#58D06C", "#58B068")
atoms([CC_X] * 5, CC_ROWS, 19, "#3A5A50", None)
atoms([CC_X] * 5, CC_ROWS, 10, "#45C890", None)

# (c) VBM
CV_X = 3225; CV_SIDE = [3163, 3288]
CV_ROWS = [117, 241, 362, 484, 606]; CV_CS = [170, 299, 425, 555]
CV_LOBED = [(241, 1), (362, 1.3), (484, 1)]
bonds([(CV_X, 117, CV_X, 217), (CV_X, 265, CV_X, 331), (CV_X, 393, CV_X, 460), (CV_X, 508, CV_X, 606)], BOND_G, 4)
bonds([(CV_SIDE[0], y, CV_SIDE[1], y) for y in (117, 606)], BOND_G, 4)
segs = [(CV_X + d * 19 * s, y, CV_X + d * 40, y) for y, s in CV_LOBED for d in (-1, 1)] + [(CV_X - 38, y, CV_X + 38, y) for y in (117, 606)]
bonds(segs, BOND_D, 5)
for y, s in CV_LOBED:
    lobe(CV_X, y, 38 * s, 48 * s, True)
    side_lobes(CV_X, [-78, -50, 50, 78], y, 20, 32 * s)
for y in (286, 312, 414, 438):
    lobe(CV_X, y, 26, 18)
atoms(CV_SIDE * 4, [y for y in CV_CS for _ in CV_SIDE], 26, C_BLUE)
atoms(CV_SIDE * 2, [117, 117, 606, 606], 17, C_GREEN, "#58D06C", "#58B068")
atoms([CV_X] * 2, [117, 606], 20, "#3E4044", None)
atoms([CV_X] * 5, CV_ROWS, 11, "#45C890", None)
atoms([CV_X] * 2, [175, 553], 13, C_GREEN, None)

# figure-level text, placed on the canvas axes
for x, y, s in [(111, 39, "(a)"), (1251, 38, "(b)"), (2262, 39, "(c)"), (83, 727, "(d)"), (65, 1543, "(e)")]:
    text(CX, CY, x, y, s, size=50)
for x, y, s in [(895, 36, "CBM"), (1087, 36, "VBM"), (2072, 67, "CBM"), (2072, 362, "VBM"), (3042, 36, "CBM"), (3225, 36, "VBM")]:
    text(CX, CY, x, y, s, size=54)
for x, y in [(103, 312), (1240, 312), (2255, 312), (100, 1083), (185, 1788)]:
    text(CX, CY, x, y, "Energy /eV", size=46, family=WIDE, angle=-90)

fig.update_layout(width=W, height=H, autosize=False, margin=dict(l=0, r=0, t=0, b=0, autoexpand=False), paper_bgcolor="white",
                  plot_bgcolor="rgba(0,0,0,0)", showlegend=False, shapes=shapes, annotations=annos, **layout)
fig.write_html("out.html", config=dict(displayModeBar=False),
               post_script="document.body.style.margin='0';document.documentElement.style.overflow='hidden';")
